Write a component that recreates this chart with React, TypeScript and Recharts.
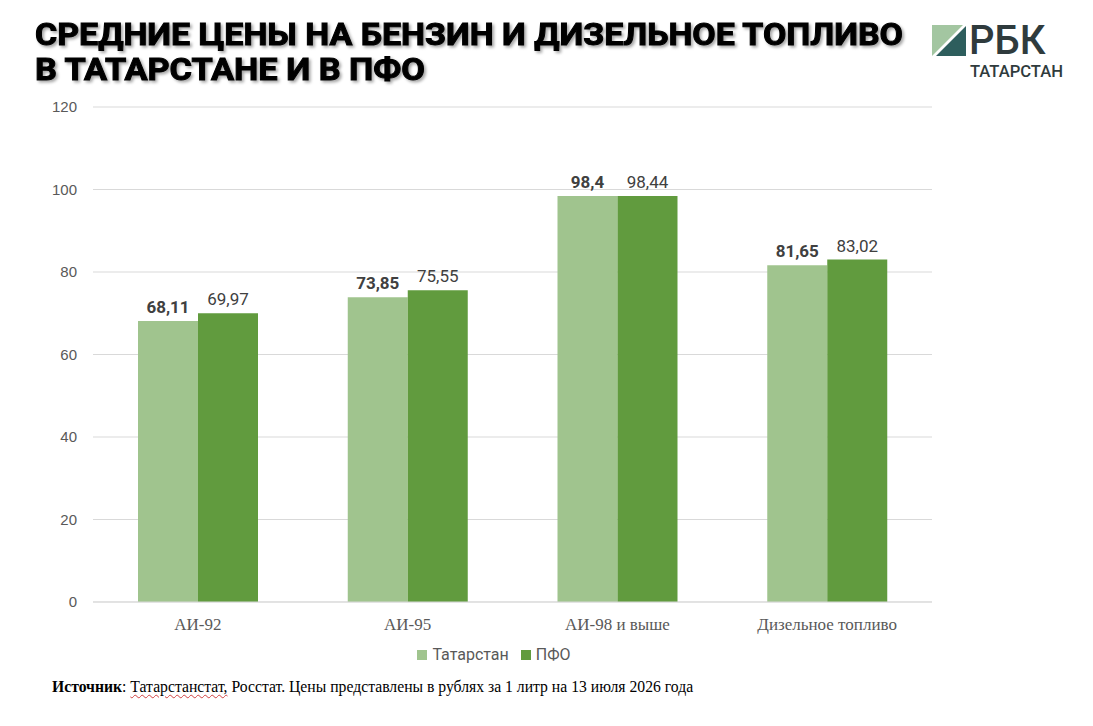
import { Bar, BarChart, CartesianGrid, LabelList, XAxis, YAxis } from "recharts";

const categories = ["АИ-92", "АИ-95", "АИ-98 и выше", "Дизельное топливо"];
const tatarstan = [68.11, 73.85, 98.4, 81.65];
const pfo = [69.97, 75.55, 98.44, 83.02];
const yTicks = [0, 20, 40, 60, 80, 100, 120];

const LIGHT = "#a0c48e";
const DARK = "#619b3e";
const NARROW = "'Liberation Sans Narrow', 'Roboto', sans-serif";
const SERIF = "'Liberation Serif', 'Times New Roman', serif";

const rows = categories.map((name, i) => ({
  name,
  tatarstan: tatarstan[i],
  pfo: pfo[i],
}));

const fmt = (v: unknown) => String(v).replace(".", ",");

function LegendBox() {
  const item = (color: string, text: string) => (
    <span style={{ display: "inline-flex", alignItems: "center", marginRight: 12 }}>
      <span style={{ width: 10, height: 10, background: color, marginRight: 5 }} />
      <span>{text}</span>
    </span>
  );
  return (
    <div
      style={{
        position: "absolute",
        left: 0,
        top: 645,
        width: 1000,
        fontFamily: NARROW,
        fontSize: 16,
        color: "#595959",
        display: "flex",
        justifyContent: "center",
      }}
    >
      {item(LIGHT, "Татарстан")}
      {item(DARK, "ПФО")}
    </div>
  );
}

export default function App() {
  return (
    <div
      style={{
        position: "absolute",
        left: 0,
        top: 0,
        width: 1093,
        height: 726,
        background: "#fff",
        overflow: "hidden",
      }}
    >
      <div style={{ position: "absolute", left: 0, top: 0 }}>
        <BarChart
          width={1093}
          height={726}
          data={rows}
          margin={{ top: 107, right: 161, bottom: 84, left: 33 }}
          barGap={0}
          barSize={60}
        >
          <CartesianGrid vertical={false} stroke="#d9d9d9" />
          <XAxis
            dataKey="name"
            height={40}
            axisLine={{ stroke: "#d9d9d9" }}
            tickLine={false}
            tickMargin={10}
            tick={{ fill: "#595959", fontSize: 17, fontFamily: SERIF }}
          />
          <YAxis
            width={60}
            domain={[0, 120]}
            ticks={yTicks}
            axisLine={false}
            tickLine={false}
            tickMargin={10}
            tick={{
              fill: "#595959",
              fontSize: 15,
              fontFamily: "'Liberation Sans', Arial, sans-serif",
            }}
          />
          <Bar dataKey="tatarstan" name="Татарстан" fill={LIGHT} isAnimationActive={false}>
            <LabelList
              dataKey="tatarstan"
              position="top"
              offset={8}
              formatter={fmt}
              style={{ fill: "#404040", fontSize: 17, fontWeight: 700, fontFamily: NARROW }}
            />
          </Bar>
          <Bar dataKey="pfo" name="ПФО" fill={DARK} isAnimationActive={false}>
            <LabelList
              dataKey="pfo"
              position="top"
              offset={8}
              formatter={fmt}
              style={{ fill: "#404040", fontSize: 17, fontFamily: NARROW }}
            />
          </Bar>
        </BarChart>
      </div>

      <LegendBox />

      <svg
        width={930}
        height={100}
        style={{
          position: "absolute",
          left: 0,
          top: 0,
          filter: "drop-shadow(2px 2px 1.5px rgba(0,0,0,0.35))",
        }}
      >
        <text
          x={35}
          y={45}
          textLength={868}
          lengthAdjust="spacingAndGlyphs"
          fontFamily={NARROW}
          fontWeight={700}
          fontSize={32}
          fill="#000"
          stroke="#000"
          strokeWidth={1}
        >
          СРЕДНИЕ ЦЕНЫ НА БЕНЗИН И ДИЗЕЛЬНОЕ ТОПЛИВО
        </text>
        <text
          x={35}
          y={80}
          textLength={390}
          lengthAdjust="spacingAndGlyphs"
          fontFamily={NARROW}
          fontWeight={700}
          fontSize={32}
          fill="#000"
          stroke="#000"
          strokeWidth={1}
        >
          В ТАТАРСТАНЕ И В ПФО
        </text>
      </svg>

      <svg width={160} height={90} style={{ position: "absolute", left: 920, top: 0 }}>
        <polygon points="12,25 43,25 12,56" fill="#a3c6a1" />
        <polygon points="46,26 46,56 16,56" fill="#2e5e5d" />
        <text x={49} y={54} fontFamily="Roboto, sans-serif" fontWeight={500} fontSize={40} fill="#2f3b3d">
          РБК
        </text>
        <text
          x={50}
          y={77}
          textLength={93}
          lengthAdjust="spacingAndGlyphs"
          fontFamily="Roboto, sans-serif"
          fontWeight={500}
          fontSize={16}
          fill="#2f3b3d"
        >
          ТАТАРСТАН
        </text>
      </svg>

      <div
        style={{
          position: "absolute",
          left: 52,
          top: 678,
          fontFamily: SERIF,
          fontSize: 15.7,
          color: "#000",
          whiteSpace: "nowrap",
        }}
      >
        <b>Источник</b>:{" "}
        <span
          style={{
            textDecoration: "underline wavy #d04040",
            textDecorationThickness: 1,
            textUnderlineOffset: 2,
          }}
        >
          Татарстанстат,
        </span>{" "}
        Росстат. Цены представлены в рублях за 1 литр на 13 июля 2026 года
      </div>
    </div>
  );
}
